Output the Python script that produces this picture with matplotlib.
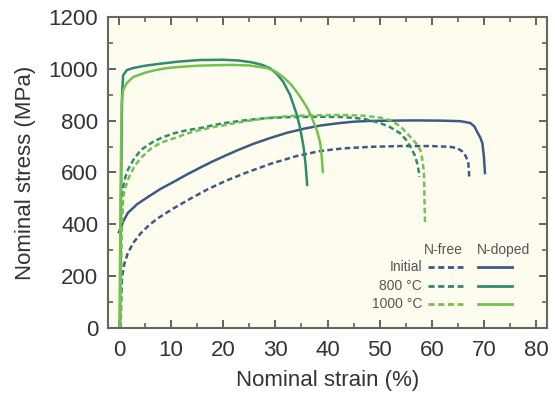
import matplotlib
matplotlib.use("Agg")
import matplotlib.pyplot as plt
from matplotlib.ticker import MultipleLocator

plt.rcParams['font.family'] = ['Liberation Sans', 'DejaVu Sans']

# stress-strain curves (strain %, stress MPa)
init_doped_x = [0.0, 0.3, 0.8, 1.7, 3.5, 5.6, 8.0, 10.7, 13.0, 15.7, 18.0, 20.5, 23.0, 25.7, 29.0, 32.2, 35.5, 38.6, 42.0, 45.0, 48.2, 52.0, 57.0, 62.0, 65.5, 67.4, 68.2, 68.7, 69.3, 69.7, 70.0, 70.2]
init_doped_y = [370, 385, 410, 444, 478, 506, 537, 566, 592, 620, 643, 666, 688, 710, 733, 753, 769, 781, 790, 796, 799, 800, 801, 800, 798, 791, 777, 757, 735, 713, 660, 598]
init_free_x = [0.3, 0.5, 0.6, 1.0, 1.7, 2.8, 4.2, 5.8, 7.5, 10.5, 13.8, 17.0, 20.5, 24.5, 29.0, 34.0, 38.6, 43.0, 48.2, 54.0, 60.0, 63.5, 64.9, 65.8, 66.4, 67.0, 67.2]
init_free_y = [0, 150, 197, 245, 289, 330, 366, 397, 424, 462, 500, 535, 568, 600, 633, 663, 683, 693, 699, 702, 702, 699, 694, 682, 667, 641, 579]
c800_doped_x = [0.2, 0.4, 0.6, 0.8, 1.5, 2.7, 5.0, 8.0, 11.5, 15.5, 20.0, 23.0, 25.5, 27.5, 29.0, 30.3, 31.5, 32.8, 34.0, 34.7, 35.4, 35.8, 36.1]
c800_doped_y = [0, 500, 900, 975, 995, 1003, 1012, 1020, 1028, 1034, 1035, 1032, 1025, 1015, 1002, 980, 950, 900, 830, 776, 700, 630, 552]
c1000_doped_x = [0.1, 0.3, 0.5, 0.8, 1.5, 2.7, 5.0, 7.0, 9.2, 12.0, 15.0, 18.5, 21.9, 25.0, 28.4, 30.0, 31.5, 33.0, 34.5, 36.0, 37.0, 38.0, 38.6, 38.9, 39.1]
c1000_doped_y = [0, 500, 860, 918, 945, 968, 985, 995, 1003, 1008, 1012, 1014, 1015, 1013, 1003, 990, 968, 940, 900, 853, 812, 760, 715, 660, 602]
c800_free_x = [0.2, 0.4, 0.8, 1.2, 1.7, 2.8, 4.2, 6.5, 8.5, 10.7, 13.0, 15.5, 18.0, 20.3, 24.0, 28.4, 33.0, 38.0, 43.0, 47.0, 50.1, 52.0, 53.9, 55.0, 55.9, 56.7, 57.2, 57.5, 57.6]
c800_free_y = [0, 400, 544, 580, 610, 650, 687, 718, 737, 752, 763, 771, 782, 791, 801, 810, 814, 815, 814, 807, 791, 775, 752, 728, 699, 668, 636, 605, 583]
c1000_free_x = [0.3, 0.5, 0.8, 1.2, 2.0, 3.0, 4.2, 6.0, 8.0, 10.7, 13.0, 15.5, 18.0, 20.3, 24.0, 28.4, 33.0, 38.0, 43.0, 47.0, 50.0, 52.0, 54.0, 55.9, 57.0, 57.8, 58.2, 58.5, 58.6, 58.7]
c1000_free_y = [0, 350, 505, 540, 585, 625, 656, 690, 715, 733, 750, 764, 775, 783, 797, 810, 818, 821, 822, 819, 812, 802, 778, 737, 712, 687, 650, 598, 500, 405]

navy = '#3d5a85'
teal = '#2e8b6e'
green = '#72c24f'

fig = plt.figure(figsize=(5.55, 3.98), dpi=100)
ax = fig.add_axes([0.1946, 0.1759, 0.7910, 0.7814])
ax.set_facecolor('#fefcee')

lw = 1.8
dash = (0, (2.2, 1.3))
ax.plot(init_doped_x, init_doped_y, color=navy, lw=lw)
ax.plot(init_free_x, init_free_y, color=navy, lw=lw, linestyle=dash)
ax.plot(c800_doped_x, c800_doped_y, color=teal, lw=lw)
ax.plot(c800_free_x, c800_free_y, color=teal, lw=lw, linestyle=dash)
ax.plot(c1000_doped_x, c1000_doped_y, color=green, lw=lw)
ax.plot(c1000_free_x, c1000_free_y, color=green, lw=lw, linestyle=dash)

ax.set_xlim(-2.1, 82.1)
ax.set_ylim(0, 1200)
ax.xaxis.set_major_locator(MultipleLocator(10))
ax.xaxis.set_minor_locator(MultipleLocator(5))
ax.yaxis.set_major_locator(MultipleLocator(200))
ax.yaxis.set_minor_locator(MultipleLocator(100))
ax.tick_params(which='both', direction='in', top=True, right=True,
               color='#555555', labelsize=16, labelcolor='#333333')
ax.tick_params(which='major', length=6, width=1.3)
ax.tick_params(axis='x', which='major', pad=9)
ax.tick_params(axis='y', which='major', pad=7)
ax.tick_params(which='minor', length=3.5, width=1.1)
for s in ax.spines.values():
    s.set_color('#666666')
    s.set_linewidth(1.5)

ax.set_xlabel('Nominal strain (%)', fontsize=16, color='#333333', labelpad=6)
ax.set_ylabel('Nominal stress (MPa)', fontsize=16, color='#333333', labelpad=9)

# hand-made legend
tr = ax.transAxes
fs = 10
tc = '#555555'
ax.text(0.763, 0.251, 'N-free', transform=tr, ha='center', va='center', fontsize=fs, color=tc)
ax.text(0.902, 0.251, 'N-doped', transform=tr, ha='center', va='center', fontsize=fs, color=tc)
rows = [('Initial', navy, 0.196), ('800 °C', teal, 0.135), ('1000 °C', green, 0.077)]
for lab, col, yy in rows:
    ax.text(0.715, yy, lab, transform=tr, ha='right', va='center', fontsize=fs, color=tc)
    ax.plot([0.729, 0.809], [yy, yy], transform=tr, color=col, lw=2, linestyle=dash)
    ax.plot([0.843, 0.920], [yy, yy], transform=tr, color=col, lw=2)

fig.savefig('out.png', dpi=100)
